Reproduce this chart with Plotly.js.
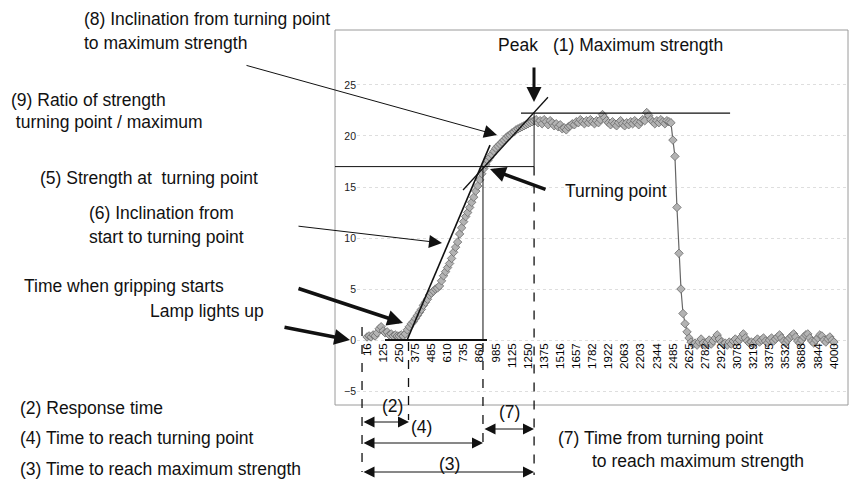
<!DOCTYPE html>
<html>
<head>
<meta charset="utf-8">
<script src="https://cdn.plot.ly/plotly-3.0.1.min.js"></script>
<style>html,body{margin:0;padding:0;background:#fff}#chart{width:854px;height:486px}</style>
</head>
<body>
<div id="chart"></div>
<script>
// Category tick labels (time), one label every 8 samples
const timeLabels = ['16','125','250','375','485','610','735','860','985','1125','1250','1375','1516','1657','1782',
  '1922','2063','2203','2344','2485','2625','2782','2922','3078','3219','3375','3532','3688','3844','4000'];

// Grip strength samples (one row per tick label)
const strength = [
  0.3, 0.4, 0.3, 0.5, 0.4, 0.7, 1.1, 1.3,
  0.9, 0.7, 0.8, 0.5, 0.6, 0.4, 0.5, 0.4,
  0.4, 0.5, 0.4, 0.6, 1.0, 1.3, 1.6, 1.8,
  2.1, 2.4, 2.7, 3.0, 3.4, 3.7, 4.0, 4.4,
  4.6, 4.8, 5.0, 5.1, 5.3, 5.8, 6.3, 6.7,
  7.1, 7.5, 8.0, 8.6, 9.1, 9.6, 10.4, 11.0,
  11.6, 12.1, 12.5, 13.0, 13.5, 14.0, 14.6, 15.1,
  15.7, 16.3, 16.8, 17.2, 17.6, 17.9, 18.2, 18.5,
  18.8, 19.0, 19.2, 19.4, 19.6, 19.8, 20.0, 20.1,
  20.3, 20.4, 20.6, 20.7, 20.8, 20.9, 21.0, 21.1,
  21.2, 21.3, 21.4, 21.5, 21.6, 21.3, 21.5, 21.2,
  21.6, 21.4, 21.1, 21.5, 21.3, 21.0, 21.2, 20.9,
  21.1, 20.7, 20.8, 20.6, 20.9, 21.0, 21.2, 21.1,
  21.4, 21.3, 21.6, 21.4, 21.2, 21.5, 21.3, 21.6,
  21.4, 21.2, 21.5, 21.3, 21.6, 22.1, 21.8, 21.5,
  21.3, 21.1, 21.4, 21.2, 21.0, 21.3, 21.5, 21.2,
  21.0, 21.3, 21.1, 21.4, 21.2, 21.5, 21.3, 21.1,
  21.4, 21.6, 21.5, 22.3, 22.0, 21.6, 21.4, 21.2,
  21.5, 21.3, 21.6, 21.4, 21.2, 21.5, 21.4, 21.3,
  19.6, 18.0, 13.0, 8.5, 5.0, 2.6, 1.6, 0.8,
  0.2, -0.2, -0.4, -0.3, -0.5, -0.2, 0.1, -0.3,
  -0.5, -0.2, 0.0, -0.4, -0.1, 0.2, 0.5, 0.1,
  -0.2, -0.4, -0.3, -0.5, -0.2, -0.4, -0.1, 0.1,
  -0.2, 0.0, 0.3, 0.6, 0.2, -0.1, -0.3, -0.2,
  -0.4, -0.1, 0.1, -0.2, 0.0, 0.2, -0.1, -0.3,
  0.0, 0.2, -0.1, 0.1, 0.3, 0.5, 0.2, -0.1,
  -0.3, 0.0, 0.2, 0.4, 0.6, 0.3, -0.1, -0.3,
  0.0, 0.3, 0.5, 0.6, 0.2, -0.1, -0.3, 0.0,
  0.2, 0.5, 0.4, 0.0, -0.2, 0.1, 0.3, 0.0,
  -0.2
];
const samplesPerLabel = 8;
const yTicks = [-5, 0, 5, 10, 15, 20, 25];

// Key analysis values (sample index / strength)
const startIdx = 20.6, turnIdx = 57.6, peakIdx = 83.0;
const turnStrength = 17.0, peakStrength = 22.25;

// ---- layout geometry ----
const L = 357, R = 6, T = 30, B = 81, FW = 854, FH = 486;
const W = FW - L - R, H = FH - T - B;
const xr = [-5, 239], yr = [-6.37, 30.39];
const dx = i => (i - xr[0]) / (xr[1] - xr[0]);
const dy = v => (v - yr[0]) / (yr[1] - yr[0]);
const PX = p => (p - L) / W;
const PY = p => (T + H - p) / H;

const shapes = [];
function seg(x0, y0, x1, y1, w, dash, color) {
  shapes.push({type: 'line', xref: 'paper', yref: 'paper', x0, y0, x1, y1,
    line: {color: color || '#111', width: w, dash: dash || 'solid'}});
}
// outer frame
shapes.push({type: 'rect', xref: 'paper', yref: 'paper', x0: PX(335), y0: PY(30), x1: PX(848), y1: PY(405),
  line: {color: '#9a9a9a', width: 1}});
// (5)/(9) reference rectangle
seg(PX(335), dy(turnStrength), dx(peakIdx), dy(turnStrength), 1);
seg(dx(peakIdx), dy(turnStrength), dx(peakIdx), dy(peakStrength), 1);
// peak level line
seg(dx(76.5), dy(peakStrength), dx(180.4), dy(peakStrength), 1.3);
// baseline
seg(dx(8.9), dy(0), dx(59.6), dy(0), 2);
// turning point vertical (solid part)
seg(dx(turnIdx), dy(0), dx(turnIdx), dy(turnStrength), 1);
// tangent start -> turning point
seg(dx(19.9), dy(0), dx(61.1), dy(19.1), 1.6);
// tangent turning point -> max
seg(dx(47.7), dy(14.7), dx(89.9), dy(23.8), 1.3);
// dashed time markers
seg(dx(-2.5), PY(327), dx(-2.5), PY(472), 1.3, 'dash');
seg(dx(startIdx), PY(342), dx(startIdx), PY(420), 1.3, 'dash');
seg(dx(turnIdx), PY(343), dx(turnIdx), PY(442), 1.3, 'dash');
seg(dx(peakIdx), dy(turnStrength), dx(peakIdx), PY(475), 1.3, 'dash');

const FONT = {family: 'Liberation Sans, Arial, sans-serif', size: 17.5, color: '#111'};
const annotations = [];
function txt(s, x, y, anchor) {
  annotations.push({text: s, xref: 'paper', yref: 'paper', x: PX(x), y: PY(y),
    xanchor: anchor || 'left', yanchor: 'middle', showarrow: false, font: FONT});
}
function arrow(hx, hy, tx, ty, w, size, both) {
  const a = {text: '', xref: 'paper', yref: 'paper', x: PX(hx), y: PY(hy), ax: tx - hx, ay: ty - hy,
    showarrow: true, arrowhead: 2, arrowsize: size, arrowwidth: w, arrowcolor: '#111', standoff: 0, startstandoff: 0};
  if (both) { a.arrowside = 'end+start'; a.startarrowhead = 2; a.startarrowsize = size; }
  annotations.push(a);
}
txt('(8) Inclination from turning point', 82, 19);
txt('to maximum strength', 82, 43);
txt('Peak', 496, 45);
txt('(1) Maximum strength', 551, 45);
txt('(9) Ratio of strength', 9, 100);
txt(' turning point / maximum', 9, 122);
txt('(5) Strength at  turning point', 38, 178);
txt('(6) Inclination from', 87, 213);
txt('start to turning point', 87, 237);
txt('Time when gripping starts', 22, 286);
txt('Lamp lights up', 148, 311);
txt('Turning point', 563, 191);
txt('(2) Response time', 18, 408);
txt('(4) Time to reach turning point', 18, 438);
txt('(3) Time to reach maximum strength', 18, 469);
txt('(7) Time from turning point', 556, 438);
txt('to reach maximum strength', 590, 461);
txt('(2)', 392, 406, 'center');
txt('(4)', 421, 427, 'center');
txt('(7)', 509, 412, 'center');
txt('(3)', 449, 464, 'center');

arrow(497, 135, 245, 65, 1, 2.6);
arrow(442, 243, 297, 226, 1, 2.6);
arrow(403, 323, 297, 288, 3.5, 0.9);
arrow(350, 340, 283, 327, 3.5, 0.9);
arrow(490, 169, 547, 190, 3.5, 0.9);
arrow(534, 102, 534, 66, 3, 1);
arrow(409, 422, 362, 422, 1, 2.2, true);
arrow(483, 443, 362, 443, 1, 2.2, true);
arrow(534, 429, 483, 429, 1, 2.2, true);
arrow(534, 472, 362, 472, 1, 2.2, true);

const trace = {
  type: 'scatter', mode: 'lines+markers', y: strength,
  line: {color: '#666', width: 1.2},
  marker: {symbol: 'diamond', size: 6.5, color: '#b3b3b3', line: {color: '#6a6a6a', width: 0.8}},
  hoverinfo: 'skip'
};

const layout = {
  width: FW, height: FH, margin: {l: L, r: R, t: T, b: B, pad: 0},
  paper_bgcolor: '#fff', plot_bgcolor: 'rgba(0,0,0,0)', showlegend: false,
  xaxis: {range: xr, anchor: 'free', position: dy(0), showgrid: false, zeroline: false, showline: false,
    tickmode: 'array', tickvals: timeLabels.map((_, k) => k * samplesPerLabel), ticktext: timeLabels,
    tickangle: -90, ticks: '', tickfont: {family: 'Liberation Sans, Arial, sans-serif', size: 11.5, color: '#000'}},
  yaxis: {range: yr, tickmode: 'array', tickvals: yTicks, ticks: '', showline: false, zeroline: false,
    showgrid: true, gridcolor: '#dedede', griddash: 'dot', gridwidth: 1,
    tickfont: {family: 'Liberation Sans, Arial, sans-serif', size: 10.5, color: '#222'}},
  shapes: shapes, annotations: annotations
};

Plotly.newPlot('chart', [trace], layout, {staticPlot: true, displayModeBar: false});
</script>
</body>
</html>
